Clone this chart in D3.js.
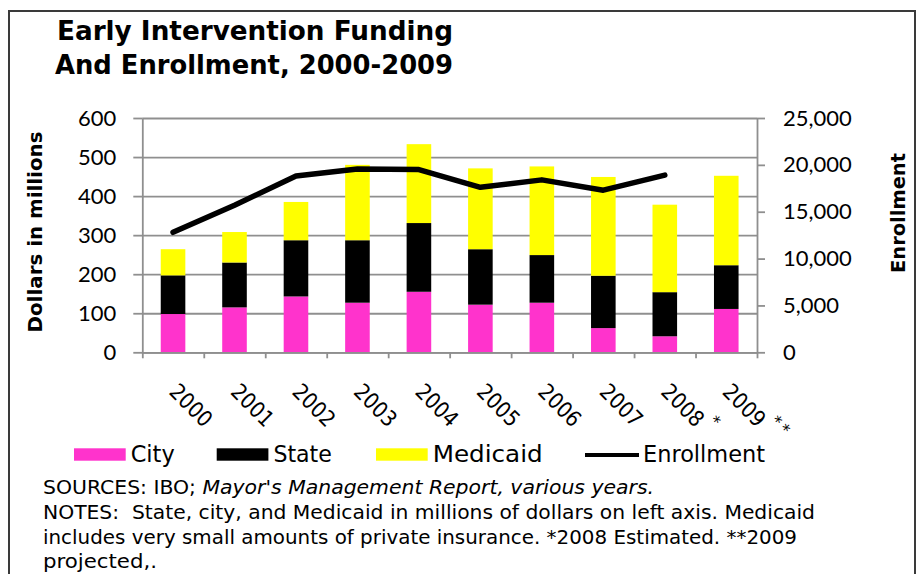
<!DOCTYPE html>
<html>
<head>
<meta charset="utf-8">
<script src="https://cdn.jsdelivr.net/npm/d3@7"></script>
<style>
  html, body { margin: 0; padding: 0; background: #fff; }
  svg { display: block; }
</style>
</head>
<body>
<svg id="chart" width="919" height="574"></svg>
<script>
// ---- data ----
const years = ["2000", "2001", "2002", "2003", "2004", "2005", "2006", "2007", "2008", "2009"];
const yearMarks = ["", "", "", "", "", "", "", "", "*", "**"];
const city = [98, 115, 143, 127, 155, 122, 127, 62, 41, 111];
const state = [99, 115, 144, 160, 176, 142, 122, 134, 113, 112];
const medicaid = [67, 78, 98, 193, 202, 207, 227, 253, 224, 229];
const enrollment = [12800, 15700, 18800, 19550, 19500, 17600, 18400, 17300, 18900, null];
const dollarTicks = [0, 100, 200, 300, 400, 500, 600];
const enrollTicks = [0, 5000, 10000, 15000, 20000, 25000];
const seriesNames = ["City", "State", "Medicaid"];
const seriesColors = ["#FF33CC", "#000000", "#FFFF00"];
const lineName = "Enrollment";
const titleLines = ["Early Intervention Funding", "And Enrollment, 2000-2009"];
const leftTitle = "Dollars in millions";
const rightTitle = "Enrollment";

// ---- layout ----
const plot = { left: 142.3, right: 757, top: 118, bottom: 352.3 };
const gothic = "'DejaVu Sans', sans-serif";
const axisFont = "Lato, 'Open Sans', sans-serif";
const gridColor = "#8f8f8f";

const svg = d3.select("#chart");
svg.append("rect").attr("width", 919).attr("height", 574).attr("fill", "#fff");
svg.append("rect")
  .attr("x", 9).attr("y", 11).attr("width", 906).attr("height", 620)
  .attr("fill", "none").attr("stroke", "#3a3a3a").attr("stroke-width", 2);

// ---- scales ----
const x = d3.scaleBand().domain(years)
  .range([plot.left, plot.right]).paddingInner(0.6).paddingOuter(0.3);
const xEdge = d3.scaleLinear().domain([0, years.length]).range([plot.left, plot.right]);
const y = d3.scaleLinear().domain([0, 600]).range([plot.bottom, plot.top]);
const y2 = d3.scaleLinear().domain([0, 25000]).range([plot.bottom, plot.top]);
const color = d3.scaleOrdinal().domain(seriesNames).range(seriesColors);

// ---- gridlines ----
const grid = svg.append("g").attr("transform", `translate(${plot.left},0)`)
  .call(d3.axisLeft(y).tickValues(dollarTicks).tickSize(-(plot.right - plot.left)).tickFormat(""));
grid.select(".domain").remove();
grid.selectAll("line").attr("stroke", gridColor).attr("stroke-width", 1.8);

// ---- stacked bars ----
const table = years.map((yr, i) => ({ year: yr, City: city[i], State: state[i], Medicaid: medicaid[i] }));
const stacked = d3.stack().keys(seriesNames)(table);
svg.append("g").selectAll("g").data(stacked).join("g")
  .attr("fill", d => color(d.key))
  .selectAll("rect").data(d => d).join("rect")
  .attr("x", d => x(d.data.year))
  .attr("width", x.bandwidth())
  .attr("y", d => y(d[1]))
  .attr("height", d => y(d[0]) - y(d[1]));

// ---- axes ----
function styleAxis(g) {
  g.select(".domain").attr("stroke", gridColor).attr("stroke-width", 1.8);
  g.selectAll(".tick line").attr("stroke", gridColor).attr("stroke-width", 1.8);
  g.selectAll(".tick text").attr("fill", "#000").attr("font-family", axisFont).attr("font-size", 22);
}
const axL = svg.append("g").attr("transform", `translate(${plot.left},0)`)
  .call(d3.axisLeft(y).tickValues(dollarTicks).tickSize(9).tickSizeOuter(0).tickPadding(17));
styleAxis(axL);

const axR = svg.append("g").attr("transform", `translate(${plot.right},0)`)
  .call(d3.axisRight(y2).tickValues(enrollTicks).tickSize(8).tickSizeOuter(0).tickPadding(18)
    .tickFormat(d3.format(",")));
styleAxis(axR);

const axB = svg.append("g").attr("transform", `translate(0,${plot.bottom})`)
  .call(d3.axisBottom(xEdge).tickValues(d3.range(years.length + 1)).tickSize(6).tickSizeOuter(0).tickFormat(""));
styleAxis(axB);

// ---- enrollment line ----
const line = d3.line()
  .defined(d => d.v != null)
  .x(d => x(d.year) + x.bandwidth() / 2)
  .y(d => y2(d.v));
svg.append("path")
  .datum(years.map((yr, i) => ({ year: yr, v: enrollment[i] })))
  .attr("d", line)
  .attr("fill", "none").attr("stroke", "#000").attr("stroke-width", 5.5)
  .attr("stroke-linejoin", "round").attr("stroke-linecap", "round");

// ---- category labels (rotated) ----
const xl = svg.append("g").selectAll("g").data(years).join("g")
  .attr("transform", d => `translate(${x(d) + x.bandwidth() / 2 - 5},393) rotate(45)`);
xl.append("text")
  .attr("font-family", gothic).attr("font-size", 22)
  .attr("textLength", 50).attr("lengthAdjust", "spacingAndGlyphs")
  .text(d => d);
xl.each(function (d, i) {
  const marks = yearMarks[i];
  for (let k = 0; k < marks.length; k++) {
    d3.select(this).append("text")
      .attr("x", 59 + k * 11.5).attr("y", -19)
      .attr("text-anchor", "middle").attr("dominant-baseline", "central")
      .attr("font-family", gothic).attr("font-size", 16)
      .text(marks[k]);
  }
});

// ---- titles ----
const titleWidths = [396, 398];
const titleX = [57, 55];
const titleY = [40, 74];
svg.append("g").selectAll("text").data(titleLines).join("text")
  .attr("x", (d, i) => titleX[i]).attr("y", (d, i) => titleY[i])
  .attr("font-family", gothic).attr("font-weight", "bold").attr("font-size", 26.5)
  .attr("textLength", (d, i) => titleWidths[i]).attr("lengthAdjust", "spacingAndGlyphs")
  .text(d => d);

svg.append("text")
  .attr("transform", "translate(41.5,232) rotate(-90)")
  .attr("text-anchor", "middle")
  .attr("font-family", gothic).attr("font-weight", "bold").attr("font-size", 20)
  .attr("textLength", 201).attr("lengthAdjust", "spacingAndGlyphs")
  .text(leftTitle);

svg.append("text")
  .attr("transform", "translate(905,213) rotate(-90)")
  .attr("text-anchor", "middle")
  .attr("font-family", gothic).attr("font-weight", "bold").attr("font-size", 20)
  .attr("textLength", 120).attr("lengthAdjust", "spacingAndGlyphs")
  .text(rightTitle);

// ---- legend ----
const legendItems = seriesNames.map(n => ({ name: n, type: "box" })).concat([{ name: lineName, type: "line" }]);
const legendX = [74, 216.7, 376, 585];
const legendTextW = [44, 58.5, 110, 122];
const lg = svg.append("g").selectAll("g").data(legendItems).join("g")
  .attr("transform", (d, i) => `translate(${legendX[i]},0)`);
lg.filter(d => d.type === "box").append("rect")
  .attr("x", 0).attr("y", 448.3).attr("width", 51.7).attr("height", 12.4)
  .attr("fill", d => color(d.name));
lg.filter(d => d.type === "line").append("line")
  .attr("x1", 0).attr("x2", 54).attr("y1", 455).attr("y2", 455)
  .attr("stroke", "#000").attr("stroke-width", 4);
lg.append("text")
  .attr("x", d => d.type === "line" ? 58 : 56.7).attr("y", 461.5)
  .attr("font-family", gothic).attr("font-size", 23)
  .attr("textLength", (d, i) => legendTextW[i]).attr("lengthAdjust", "spacingAndGlyphs")
  .text(d => d.name);

// ---- source notes ----
const notes = svg.append("g").attr("font-family", gothic).attr("font-size", 20);
const n1 = notes.append("text").attr("x", 43).attr("y", 494)
  .attr("textLength", 611).attr("lengthAdjust", "spacingAndGlyphs");
n1.append("tspan").text("SOURCES: IBO; ");
n1.append("tspan").attr("font-style", "italic").text("Mayor's Management Report, various years.");
const noteLines = [
  "NOTES:  State, city, and Medicaid in millions of dollars on left axis. Medicaid",
  "includes very small amounts of private insurance. *2008 Estimated. **2009",
  "projected,."
];
const noteW = [772, 754, 114];
const noteY = [519, 544, 567.5];
noteLines.forEach((t, i) => {
  notes.append("text").attr("x", 43).attr("y", noteY[i])
    .attr("xml:space", "preserve")
    .attr("textLength", noteW[i]).attr("lengthAdjust", "spacingAndGlyphs")
    .text(t);
});
</script>
</body>
</html>
